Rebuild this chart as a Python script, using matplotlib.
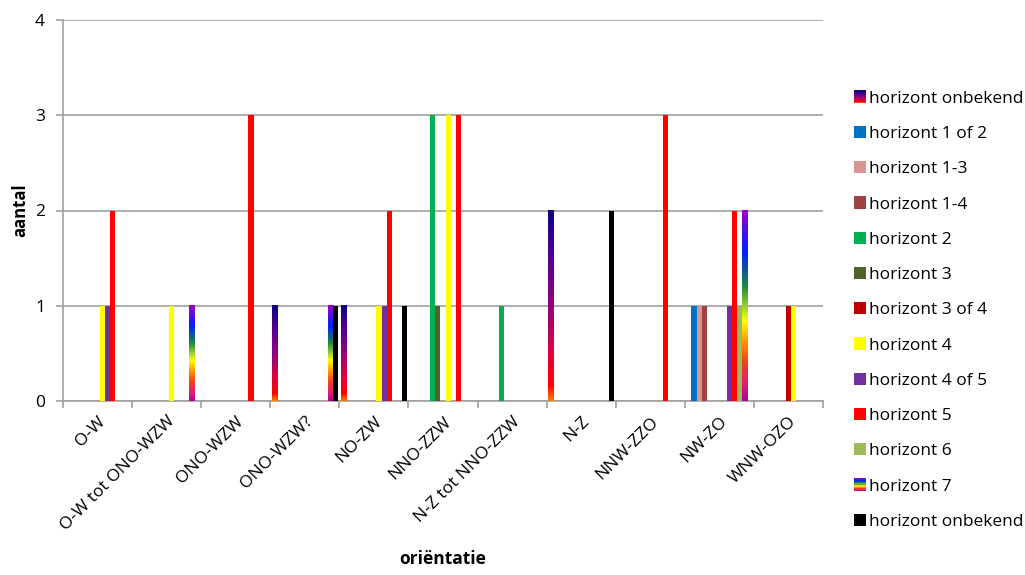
import matplotlib
matplotlib.use('Agg')
import matplotlib.pyplot as plt
import numpy as np
from matplotlib.colors import LinearSegmentedColormap
from matplotlib.patches import Rectangle
from matplotlib.legend_handler import HandlerBase

plt.rcParams['font.family'] = ['Open Sans', 'DejaVu Sans']

# categories on the x axis
categories = ['O-W', 'O-W tot ONO-WZW', 'ONO-WZW', 'ONO-WZW?', 'NO-ZW', 'NNO-ZZW',
              'N-Z tot NNO-ZZW', 'N-Z', 'NNW-ZZO', 'NW-ZO', 'WNW-OZO']

# counts per series (one value per category)
onbekend_a = [0, 0, 0, 1, 1, 0, 0, 2, 0, 0, 0]
h1of2 = [0, 0, 0, 0, 0, 0, 0, 0, 0, 1, 0]
h1_3 = [0, 0, 0, 0, 0, 0, 0, 0, 0, 1, 0]
h1_4 = [0, 0, 0, 0, 0, 0, 0, 0, 0, 1, 0]
h2 = [0, 0, 0, 0, 0, 3, 1, 0, 0, 0, 0]
h3 = [0, 0, 0, 0, 0, 1, 0, 0, 0, 0, 0]
h3of4 = [0, 0, 0, 0, 0, 0, 0, 0, 0, 0, 1]
h4 = [1, 1, 0, 0, 1, 3, 0, 0, 0, 0, 1]
h4of5 = [1, 0, 0, 0, 1, 0, 0, 0, 0, 1, 0]
h5 = [2, 0, 3, 0, 2, 3, 0, 0, 3, 2, 0]
h6 = [0, 0, 0, 0, 0, 0, 0, 0, 0, 1, 0]
h7 = [0, 1, 0, 1, 0, 0, 0, 0, 0, 2, 0]
onbekend_b = [0, 0, 0, 1, 1, 0, 0, 2, 0, 0, 0]

labels = ['horizont onbekend', 'horizont 1 of 2', 'horizont 1-3', 'horizont 1-4',
          'horizont 2', 'horizont 3', 'horizont 3 of 4', 'horizont 4',
          'horizont 4 of 5', 'horizont 5', 'horizont 6', 'horizont 7',
          'horizont onbekend']
series = [onbekend_a, h1of2, h1_3, h1_4, h2, h3, h3of4, h4, h4of5, h5, h6, h7, onbekend_b]

# solid colours; gradient series get None
colors = [None, '#0070C0', '#D99594', '#9E4341', '#00B050', '#4F6228', '#C00000',
          '#FFFF00', '#7030A0', '#FF0000', '#9BBB59', None, '#000000']

# gradients, bottom -> top
sunset = LinearSegmentedColormap.from_list('sunset', [
    (0.0, '#FF8000'), (0.08, '#FF0000'), (0.25, '#E0003C'), (0.5, '#900080'),
    (0.75, '#560090'), (1.0, '#0A0080')])
rainbow = LinearSegmentedColormap.from_list('rainbow_x', [
    (0.0, '#B0009E'), (0.1, '#E8206A'), (0.2, '#F04020'), (0.3, '#FF8C00'),
    (0.42, '#FFFF00'), (0.5, '#9ACD32'), (0.6, '#1E8C3C'), (0.78, '#0020FF'),
    (1.0, '#A000C8')])
gradients = {0: sunset, 11: rainbow}


class GradientHandler(HandlerBase):
    def __init__(self, cmap, n=12):
        super().__init__()
        self.cmap = cmap
        self.n = n

    def create_artists(self, legend, orig_handle, xdescent, ydescent, width,
                       height, fontsize, trans):
        arts = []
        side = min(width, height)
        x0 = -xdescent
        y0 = -ydescent + (height - side) / 2
        for k in range(self.n):
            r = Rectangle((x0, y0 + side * k / self.n), side, side / self.n + 0.3,
                          facecolor=self.cmap((k + 0.5) / self.n), edgecolor='none',
                          transform=trans)
            arts.append(r)
        return arts


class SquareHandler(HandlerBase):
    def create_artists(self, legend, orig_handle, xdescent, ydescent, width,
                       height, fontsize, trans):
        side = min(width, height)
        r = Rectangle((-xdescent, -ydescent + (height - side) / 2), side, side,
                      facecolor=orig_handle.get_facecolor(), edgecolor='none',
                      transform=trans)
        return [r]


fig = plt.figure(figsize=(10.25, 5.75), dpi=100)
ax = fig.add_axes([63 / 1025, 1 - 401 / 575, (823 - 63) / 1025, (401 - 20) / 575])

n = len(series)
w = 1 / 13.6
x = np.arange(len(categories))
handles = []
handler_map = {}
for j, vals in enumerate(series):
    pos = x + (j - (n - 1) / 2) * w
    if colors[j] is None:
        bars = ax.bar(pos, vals, width=w, color='none', edgecolor='none', zorder=3)
        cmap = gradients[j]
        grad = np.linspace(1, 0, 256).reshape(-1, 1)
        for b in bars:
            if b.get_height() > 0:
                ax.imshow(grad, cmap=cmap, vmin=0, vmax=1, aspect='auto',
                          extent=(b.get_x(), b.get_x() + b.get_width(), 0, b.get_height()),
                          zorder=3, interpolation='bilinear')
        h = Rectangle((0, 0), 1, 1, facecolor='none')
        handler_map[h] = GradientHandler(cmap)
    else:
        ax.bar(pos, vals, width=w, color=colors[j], edgecolor='none', zorder=3)
        h = Rectangle((0, 0), 1, 1, facecolor=colors[j])
        handler_map[h] = SquareHandler()
    handles.append(h)

ax.set_xlim(-0.5, len(categories) - 0.5)
ax.set_ylim(0, 4)
ax.set_yticks([0, 1, 2, 3, 4])
ax.yaxis.grid(True, color='#A0A0A0', linewidth=1.2, zorder=0)
ax.set_axisbelow(True)
for s in ['top', 'right']:
    ax.spines[s].set_visible(False)
for s in ['left', 'bottom']:
    ax.spines[s].set_color('#A0A0A0')
    ax.spines[s].set_linewidth(1.2)
ax.tick_params(axis='y', length=5, color='#A0A0A0', width=1.2, labelsize=12.5, pad=8)

ax.set_xticks(x)
ax.set_xticks(np.arange(-0.5, len(categories), 1), minor=True)
ax.tick_params(axis='x', which='major', length=0, pad=9)
ax.tick_params(axis='x', which='minor', length=5, color='#A0A0A0', width=1.2)
ax.set_xticklabels(categories, rotation=45, ha='right', rotation_mode='anchor', fontsize=12.5)

ax.set_ylabel('aantal', fontsize=12, fontweight='bold')
ax.yaxis.set_label_coords(-0.044, 0.5)
ax.set_xlabel('oriëntatie', fontsize=12.5, fontweight='bold')
ax.xaxis.set_label_coords(0.5, -0.39)

fig.legend(handles, labels, handler_map=handler_map, loc='upper left',
           bbox_to_anchor=(845 / 1025, 1 - 82 / 575), frameon=False, fontsize=12.5,
           labelspacing=1.1, handlelength=0.7, handleheight=0.7, handletextpad=0.2,
           borderpad=0)

fig.savefig('out.png', dpi=100)
